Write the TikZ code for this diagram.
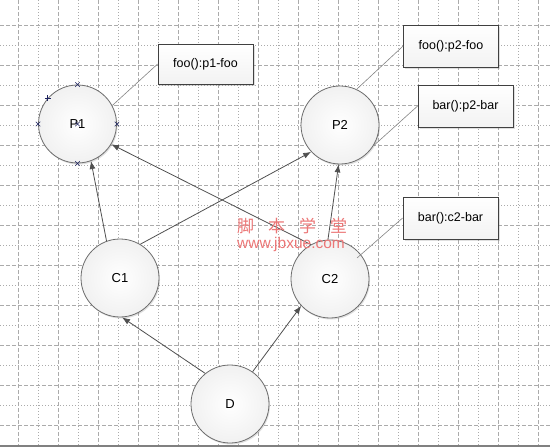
\documentclass[tikz,border=0pt]{standalone}
\usepackage{fontspec}
\setmainfont{Liberation Sans}
\newfontfamily\cjk{Noto Sans CJK SC}
\usetikzlibrary{positioning,arrows.meta,calc,shadows,shapes.misc}
\definecolor{gridgray}{HTML}{ABABAB}
\definecolor{edgegray}{HTML}{505050}
\definecolor{outline}{HTML}{6E6E6E}
\definecolor{notegray}{HTML}{858585}
\definecolor{hblue}{HTML}{1E2460}
\definecolor{wmred}{HTML}{EC7676}

\begin{document}
\begin{tikzpicture}[x=1pt, y=-1pt,
    gdash/.style={draw=gridgray, line width=0.7pt, dash pattern=on 4pt off 2pt},
    gdot/.style={draw=gridgray, line width=0.7pt, dash pattern=on 1pt off 2pt},
    cls/.style={circle, draw=outline, line width=0.8pt, inner color=white, outer color=gray!11, minimum size=78pt, inner sep=0pt, font=\fontsize{13}{14}\selectfont, drop shadow={shadow xshift=1pt, shadow yshift=-1.5pt, opacity=0.25}},
    note/.style={draw=black!75, line width=0.8pt, top color=white, bottom color=gray!10, minimum width=95pt, minimum height=42pt, inner sep=0pt, font=\fontsize{12.5}{14}\selectfont, drop shadow={shadow xshift=1.5pt, shadow yshift=-1.5pt, opacity=0.25}},
    arr/.style={-{Latex[length=8pt,width=6pt]}, line width=0.8pt, draw=edgegray},
    link/.style={draw=notegray, line width=0.6pt},
    hmark/.style={cross out, draw=hblue, line width=0.5pt, minimum size=4pt, inner sep=0pt},
    wmark/.style={text=wmred, inner sep=0pt}
]
    \useasboundingbox[fill=white] (0,0) rectangle (550,447);

    % Grid
    \foreach \gx [count=\i] in {18,38,...,538}
        {\ifodd\i \draw[gdash] (\gx,0) -- (\gx,445); \else \draw[gdot] (\gx,0) -- (\gx,445); \fi}
    \foreach \gy [count=\i] in {25,45,...,425}
        {\ifodd\i \draw[gdash] (0,\gy) -- (550,\gy); \else \draw[gdot] (0,\gy) -- (550,\gy); \fi}
    \draw[gray, line width=1.5pt] (0,446) -- (550,446);

    % Classes
    \node[cls] (P1) at (77.5,124) {P1};
    \node[cls] (P2) at (340,125) {P2};
    \node[cls] (C1) at (120,278) {C1};
    \node[cls] (C2) at (330,279) {C2};
    \node[cls] (D) at (230,404) {D};

    % Notes
    \node[note, minimum height=40pt] (p1foo) at (205.5,64) {foo():p1-foo};
    \node[note] (p2foo) at (451,46) {foo():p2-foo};
    \node[note] (p2bar) at (465.5,106) {bar():p2-bar};
    \node[note] (c2bar) at (450.5,218) {bar():c2-bar};

    % Inheritance
    \draw[arr] (C1.110) -- (P1.-70);
    \draw[arr] (C2.119) -- (P1.-31);
    \draw[arr] (C1.59) -- (P2.223);
    \draw[arr] (C2.93) -- (P2.268);
    \draw[arr] (D.129) -- (C1.273);
    \draw[arr] (D.55) -- (C2.223);

    % Note links
    \draw[link] (P1.28) -- (p1foo.west);
    \draw[link] (P2.65) -- (p2foo.west);
    \draw[link] (P2.-32) -- (p2bar.west);
    \coordinate (c2in) at ($(C2.center)+(27pt,21pt)$);
    \draw[link] (c2in) -- (c2bar.west);

    % Selection handles on P1
    \foreach \a in {north,south,east,west,center}
        \node[hmark] at (P1.\a) {};
    \coordinate (hp) at (P1.139);
    \draw[hblue, line width=0.7pt] ($(hp)+(-3pt,0pt)$) -- ($(hp)+(3pt,0pt)$)
        ($(hp)+(0pt,-3pt)$) -- ($(hp)+(0pt,3pt)$);

    % Watermark
    \node[wmark, anchor=west, font=\cjk\fontsize{17}{17}\selectfont] (wmcn) at (237,226)
        {脚\hspace{14pt}本\hspace{14pt}学\hspace{14pt}堂};
    \node[wmark, anchor=base west, font=\fontsize{15.5}{16}\selectfont] (wmurl) at (237,248) {www.jbxue.com};
\end{tikzpicture}
\end{document}
